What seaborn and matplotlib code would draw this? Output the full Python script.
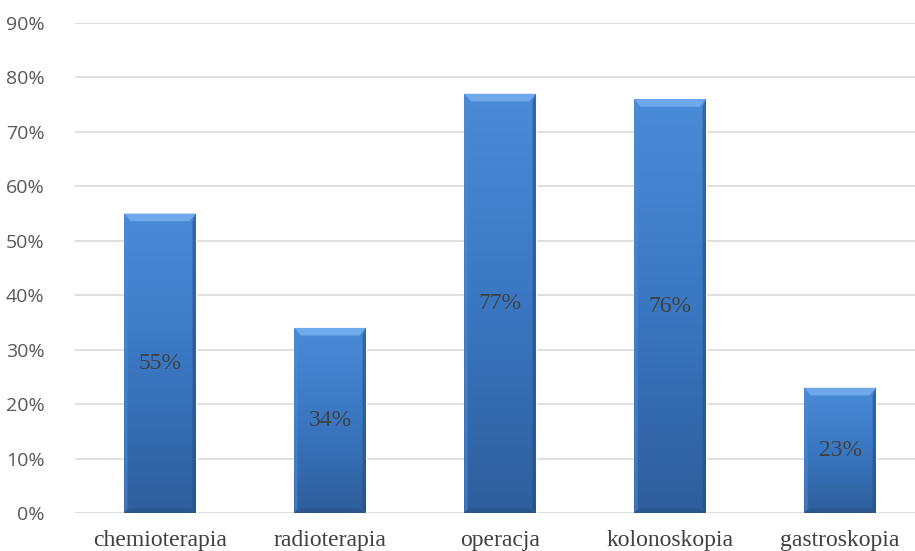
import numpy as np
import pandas as pd
import matplotlib
matplotlib.use("Agg")
import matplotlib.pyplot as plt
import seaborn as sns
from matplotlib.colors import LinearSegmentedColormap

categories = ["chemioterapia", "radioterapia", "operacja", "kolonoskopia", "gastroskopia"]
values = [0.55, 0.34, 0.77, 0.76, 0.23]
y_ticks = [0.0, 0.1, 0.2, 0.3, 0.4, 0.5, 0.6, 0.7, 0.8, 0.9]

df = pd.DataFrame({"kategoria": categories, "udzial": values})

sns.set_theme(style="white")
fig = plt.figure(figsize=(9.15, 5.51), dpi=100)
ax = fig.add_axes([75 / 915, 38 / 551, 1 - 75 / 915, 490 / 551])

sns.barplot(data=df, x="kategoria", y="udzial", color="#3b78c4", width=0.42,
            ax=ax, zorder=2, saturation=1)

ax.set_xlim(-0.5, 4.44)
ax.set_ylim(0, 0.9)
ax.set_yticks(y_ticks)
ax.set_yticklabels([f"{int(round(t * 100))}%" for t in y_ticks],
                   fontfamily="Open Sans", fontsize=14, color="#595959")
ax.tick_params(axis="y", length=0, pad=22)
ax.tick_params(axis="x", length=0, pad=12)
for lbl in ax.get_xticklabels():
    lbl.set_fontfamily("Liberation Serif")
    lbl.set_fontsize(17)
    lbl.set_color("#404040")
ax.set_xlabel("")
ax.set_ylabel("")
ax.yaxis.grid(True, color="#d9d9d9", linewidth=1.2, zorder=0)
ax.set_axisbelow(True)
for s in ax.spines.values():
    s.set_visible(False)

# gradient fill with bevelled edges on each bar
cmap = LinearSegmentedColormap.from_list("bar", ["#2e5e9b", "#3a77c2", "#4a8bd8"])
for patch, val in zip(ax.patches, values):
    x0 = patch.get_x()
    w = patch.get_width()
    h = patch.get_height()
    grad = np.linspace(0, 1, 256).reshape(-1, 1)
    im = ax.imshow(grad, cmap=cmap, origin="lower", aspect="auto",
                   extent=[x0, x0 + w, 0, h], zorder=3)
    im.set_clip_path(patch)
    bev_x = w * 0.09
    bev_y = 0.014
    ax.fill([x0, x0 + w, x0 + w - bev_x, x0 + bev_x],
            [h, h, h - bev_y, h - bev_y], color="#6fa9ec", zorder=4, lw=0)
    ax.fill([x0, x0 + bev_x * 0.5, x0 + bev_x * 0.5, x0],
            [0, bev_y * 0.6, h - bev_y, h], color="#4d8ad3", zorder=4, lw=0, alpha=0.6)
    ax.fill([x0 + w, x0 + w - bev_x * 0.5, x0 + w - bev_x * 0.5, x0 + w],
            [0, bev_y * 0.6, h - bev_y, h], color="#244d80", zorder=4, lw=0, alpha=0.6)
    ax.fill([x0, x0 + w, x0 + w - bev_x, x0 + bev_x],
            [0, 0, bev_y * 0.6, bev_y * 0.6], color="#2a568c", zorder=4, lw=0)
    ax.text(x0 + w / 2, h / 2, f"{int(round(val * 100))}%", ha="center", va="center",
            fontfamily="Liberation Serif", fontsize=17, color="#404040", zorder=5)

fig.savefig("out.png", dpi=100)
